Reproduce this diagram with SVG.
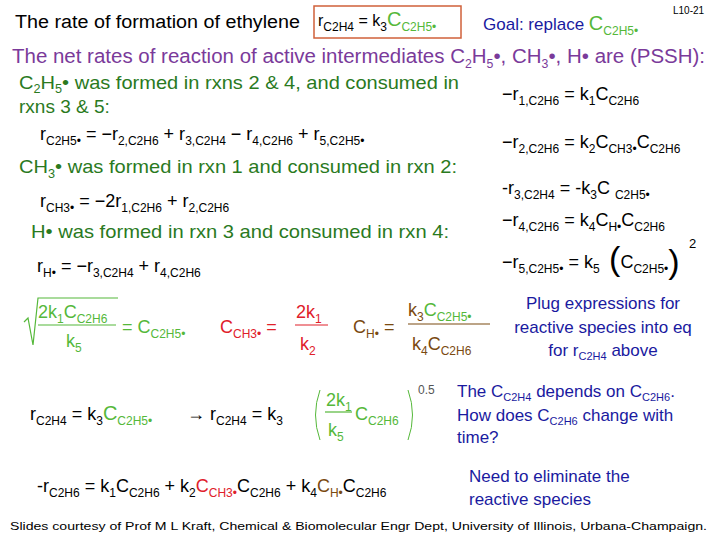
<svg xmlns="http://www.w3.org/2000/svg" width="720" height="540" viewBox="0 0 720 540">
<style>
text{font-family:"Liberation Sans",Arial,sans-serif;}
.t{font-size:18px;fill:#000}
.eq{font-size:18px;fill:#000}
.s{font-size:12px}
.g{fill:#2a7a1e}
.lg{fill:#55b83a}
.rd{fill:#e0202a}
.br{fill:#7a4a10}
.nv{fill:#1a1aa0;font-size:17px}
.pu{fill:#7a3a9a;font-size:20px}
</style>
<rect width="720" height="540" fill="#fff"/>
<g id="title">
<text class="t" x="15" y="28" textLength="285" lengthAdjust="spacingAndGlyphs">The rate of formation of ethylene</text>
<rect x="314" y="6" width="147" height="32" fill="none" stroke="#d0603a" stroke-width="1.5"/>
<text font-size="16" x="318" y="26">r<tspan class="s" dy="5">C2H4</tspan><tspan dy="-5"> = k</tspan><tspan class="s" dy="5">3</tspan><tspan class="lg" dy="-5" font-size="20">C</tspan><tspan class="s lg" dy="5">C2H5•</tspan></text>
<text class="nv" x="483" y="30" font-size="18">Goal: replace <tspan class="lg" font-size="20">C</tspan><tspan class="lg" font-size="12" dy="5">C2H5•</tspan></text>
<text x="673" y="14" font-size="10">L10-21</text>
<text class="pu" x="12" y="63" textLength="693" lengthAdjust="spacingAndGlyphs">The net  rates of reaction of active intermediates C<tspan font-size="12" dy="5">2</tspan><tspan dy="-5">H</tspan><tspan font-size="12" dy="5">5</tspan><tspan dy="-5">•, CH</tspan><tspan font-size="12" dy="5">3</tspan><tspan dy="-5">•, H• are (PSSH):</tspan></text>
</g>
<g id="left">
<text class="g" font-size="19" x="19" y="89" textLength="440" lengthAdjust="spacingAndGlyphs">C<tspan font-size="12" dy="4">2</tspan><tspan dy="-4">H</tspan><tspan font-size="12" dy="4">5</tspan><tspan dy="-4">• was formed in rxns 2 &amp; 4, and consumed in</tspan></text>
<text class="g" font-size="19" x="19" y="113">rxns 3 &amp; 5:</text>
<text class="eq" x="40" y="140" font-size="18">r<tspan class="s" dy="5">C2H5•</tspan><tspan dy="-5"> = −r</tspan><tspan class="s" dy="5">2,C2H6</tspan><tspan dy="-5"> + r</tspan><tspan class="s" dy="5">3,C2H4</tspan><tspan dy="-5"> − r</tspan><tspan class="s" dy="5">4,C2H6</tspan><tspan dy="-5"> + r</tspan><tspan class="s" dy="5">5,C2H5•</tspan></text>
<text class="g" font-size="19" x="19" y="173" textLength="438" lengthAdjust="spacingAndGlyphs">CH<tspan font-size="12" dy="5">3</tspan><tspan dy="-5">• was formed in rxn 1 and consumed in rxn 2:</tspan></text>
<text class="eq" x="40" y="207" font-size="19">r<tspan class="s" dy="5">CH3•</tspan><tspan dy="-5"> = −2r</tspan><tspan class="s" dy="5">1,C2H6</tspan><tspan dy="-5"> + r</tspan><tspan class="s" dy="5">2,C2H6</tspan></text>
<text class="g" font-size="19" x="31" y="238" textLength="418" lengthAdjust="spacingAndGlyphs">H• was formed in rxn 3 and consumed in rxn 4:</text>
<text class="eq" x="37" y="272" font-size="19">r<tspan class="s" dy="5">H•</tspan><tspan dy="-5"> = −r</tspan><tspan class="s" dy="5">3,C2H4</tspan><tspan dy="-5"> + r</tspan><tspan class="s" dy="5">4,C2H6</tspan></text>
</g>
<g id="right">
<text class="eq" x="502" y="100">−r<tspan class="s" dy="5">1,C2H6</tspan><tspan dy="-5"> = k</tspan><tspan class="s" dy="5">1</tspan><tspan dy="-5">C</tspan><tspan class="s" dy="5">C2H6</tspan></text>
<text class="eq" x="502" y="148">−r<tspan class="s" dy="5">2,C2H6</tspan><tspan dy="-5"> = k</tspan><tspan class="s" dy="5">2</tspan><tspan dy="-5">C</tspan><tspan class="s" dy="5">CH3•</tspan><tspan dy="-5">C</tspan><tspan class="s" dy="5">C2H6</tspan></text>
<text class="eq" x="502" y="194">-r<tspan class="s" dy="5">3,C2H4</tspan><tspan dy="-5"> = -k</tspan><tspan class="s" dy="5">3</tspan><tspan dy="-5">C </tspan><tspan class="s" dy="5">C2H5•</tspan></text>
<text class="eq" x="502" y="226">−r<tspan class="s" dy="5">4,C2H6</tspan><tspan dy="-5"> = k</tspan><tspan class="s" dy="5">4</tspan><tspan dy="-5">C</tspan><tspan class="s" dy="5">H•</tspan><tspan dy="-5">C</tspan><tspan class="s" dy="5">C2H6</tspan></text>
<text class="eq" x="502" y="268">−r<tspan class="s" dy="5">5,C2H5•</tspan><tspan dy="-5"> = k</tspan><tspan class="s" dy="5">5</tspan><tspan dy="-3" font-size="34"> (</tspan><tspan dy="-2">C</tspan><tspan class="s" dy="5">C2H5•</tspan><tspan dy="0" font-size="34">)</tspan></text>
<text x="689" y="248" font-size="13">2</text>
</g>
<g id="plug">
<path d="M24 322 L28 318 L33 345 L38 298 L118 298" fill="none" stroke="#55b83a" stroke-width="1.2"/>
<text class="eq lg" x="38" y="318">2k<tspan class="s" dy="5">1</tspan><tspan dy="-5">C</tspan><tspan class="s" dy="5">C2H6</tspan></text>
<line x1="38" y1="325" x2="116" y2="325" stroke="#55b83a" stroke-width="1.2"/>
<text class="eq lg" x="66" y="347">k<tspan class="s" dy="5">5</tspan></text>
<text class="eq lg" x="122" y="333">= C<tspan class="s" dy="5">C2H5•</tspan></text>
<text class="eq rd" x="220" y="333" font-size="20">C<tspan class="s" dy="5">CH3•</tspan><tspan dy="-5"> = </tspan></text>
<text class="eq rd" x="296" y="318">2k<tspan class="s" dy="5">1</tspan></text>
<line x1="295" y1="325" x2="328" y2="325" stroke="#e0202a" stroke-width="1.2"/>
<text class="eq rd" x="300" y="350">k<tspan class="s" dy="5">2</tspan></text>
<text class="eq br" x="353" y="333" font-size="20">C<tspan class="s" dy="5">H•</tspan><tspan dy="-5"> = </tspan></text>
<text class="eq br" x="408" y="316">k<tspan class="s" dy="5">3</tspan><tspan dy="-5" class="lg">C</tspan><tspan class="s lg" dy="5">C2H5•</tspan></text>
<line x1="408" y1="324" x2="490" y2="324" stroke="#7a4a10" stroke-width="1.2"/>
<text class="eq br" x="412" y="350">k<tspan class="s" dy="5">4</tspan><tspan dy="-5">C</tspan><tspan class="s" dy="5">C2H6</tspan></text>
<text class="nv" text-anchor="middle" x="603" y="309">Plug expressions for</text>
<text class="nv" text-anchor="middle" x="603" y="333">reactive species into eq</text>
<text class="nv" text-anchor="middle" x="603" y="356">for r<tspan font-size="11" dy="4">C2H4</tspan><tspan dy="-4"> above</tspan></text>
</g>
<g id="rate">
<text class="eq" x="30" y="420">r<tspan class="s" dy="5">C2H4</tspan><tspan dy="-5"> = k</tspan><tspan class="s" dy="5">3</tspan><tspan dy="-5" class="lg" font-size="20">C</tspan><tspan class="s lg" dy="5">C2H5•</tspan></text>
<text class="eq" x="187" y="420">→ r<tspan class="s" dy="5">C2H4</tspan><tspan dy="-5"> = k</tspan><tspan class="s" dy="5">3</tspan></text>
<path d="M320 390 Q311 415 320 440" fill="none" stroke="#55b83a" stroke-width="1"/>
<text class="eq lg" x="326" y="406">2k<tspan class="s" dy="5">1</tspan></text>
<line x1="325" y1="412" x2="352" y2="412" stroke="#55b83a" stroke-width="1.2"/>
<text class="eq lg" x="328" y="436">k<tspan class="s" dy="5">5</tspan></text>
<text class="eq lg" x="355" y="420">C<tspan class="s" dy="5">C2H6</tspan></text>
<path d="M408 390 Q417 415 408 440" fill="none" stroke="#55b83a" stroke-width="1"/>
<text x="418" y="394" font-size="12" fill="#555">0.5</text>
<text class="nv" x="457" y="397">The C<tspan font-size="11" dy="4">C2H4</tspan><tspan dy="-4"> depends on C</tspan><tspan font-size="11" dy="4">C2H6</tspan><tspan dy="-4">.</tspan></text>
<text class="nv" x="457" y="421">How does C<tspan font-size="11" dy="4">C2H6</tspan><tspan dy="-4"> change with</tspan></text>
<text class="nv" x="457" y="443">time?</text>
</g>
<g id="ethane">
<text class="eq" x="37" y="492" font-size="19">-r<tspan class="s" dy="5">C2H6</tspan><tspan dy="-5"> = k</tspan><tspan class="s" dy="5">1</tspan><tspan dy="-5">C</tspan><tspan class="s" dy="5">C2H6</tspan><tspan dy="-5"> + k</tspan><tspan class="s" dy="5">2</tspan><tspan dy="-5" class="rd">C</tspan><tspan class="s rd" dy="5">CH3•</tspan><tspan dy="-5">C</tspan><tspan class="s" dy="5">C2H6</tspan><tspan dy="-5"> + k</tspan><tspan class="s" dy="5">4</tspan><tspan dy="-5" class="br">C</tspan><tspan class="s br" dy="5">H•</tspan><tspan dy="-5">C</tspan><tspan class="s" dy="5">C2H6</tspan></text>
<text class="nv" x="469" y="482">Need to eliminate the</text>
<text class="nv" x="469" y="505">reactive species</text>
<text x="10" y="530" font-size="11.5" textLength="697" lengthAdjust="spacingAndGlyphs">Slides courtesy of Prof M L Kraft, Chemical &amp; Biomolecular Engr Dept, University of Illinois, Urbana-Champaign.</text>
</g>
</svg>
